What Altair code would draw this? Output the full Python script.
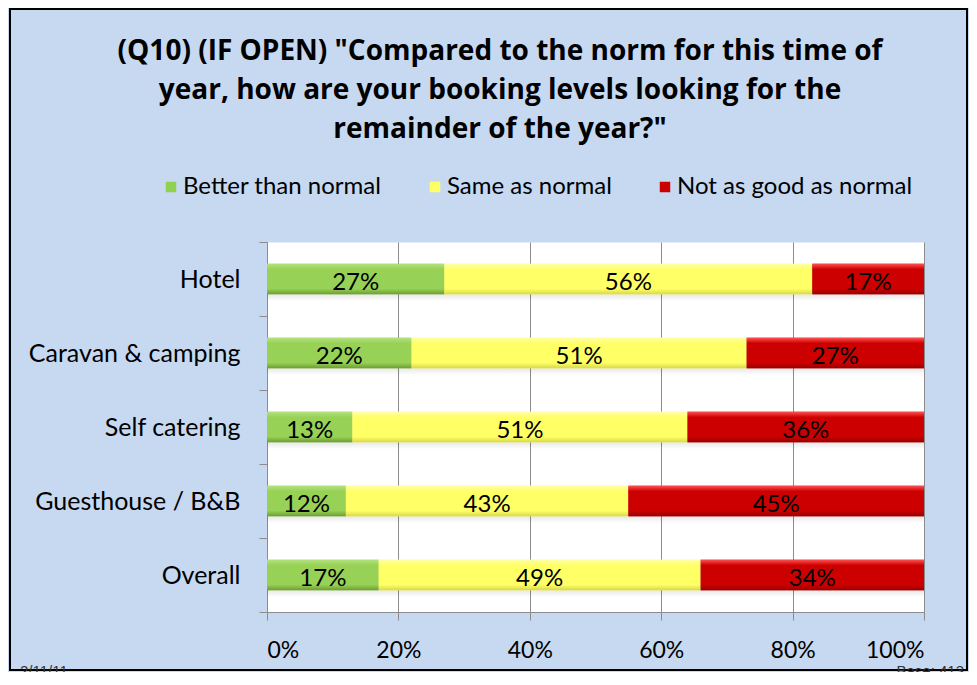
import altair as alt
import pandas as pd

categories = ["Hotel", "Caravan & camping", "Self catering", "Guesthouse / B&B", "Overall"]
series = ["Better than normal", "Same as normal", "Not as good as normal"]
better = [27, 22, 13, 12, 17]
same = [56, 51, 51, 43, 49]
notgood = [17, 27, 36, 45, 34]
x_ticks = [0, 20, 40, 60, 80, 100]
title_lines = [
    '(Q10) (IF OPEN) "Compared to the norm for this time of',
    'year, how are your booking levels looking for the',
    'remainder of the year?"',
]
footer_left = "2/11/11"
footer_right = "Base: 413"

series_colors = ["#92D050", "#FFFF66", "#CC0000"]
grad_colors = [
    ("#B4E27E", "#97D156", "#6E9E34"),
    ("#FFFFA8", "#FFFF66", "#D9D94A"),
    ("#FF5050", "#CC0000", "#990000"),
]
FONT = "Lato"

rows = []
for i, c in enumerate(categories):
    for j, (s, vals) in enumerate(zip(series, [better, same, notgood])):
        rows.append({"category": c, "series": s, "value": vals[i], "order": j,
                     "label": f"{vals[i]}%"})
df = pd.DataFrame(rows)

shadow_df = pd.DataFrame({
    "category": categories,
    "start": [0] * len(categories),
    "end": [b + s + n for b, s, n in zip(better, same, notgood)],
})
one = pd.DataFrame({"k": [0]})

y_enc = alt.Y(
    "category:N", sort=categories, title=None,
    scale=alt.Scale(paddingInner=0, paddingOuter=0),
    axis=alt.Axis(labelFontSize=25, labelFont=FONT, labelColor="black",
                  domainColor="#8C8C8C", tickColor="#8C8C8C", tickSize=8,
                  tickBand="extent", labelPadding=19, grid=False, labelLimit=400),
)
x_scale = alt.Scale(domain=[0, 100], nice=False)
x_axis = alt.Axis(values=x_ticks, labelExpr="datum.value + '%'", labelFontSize=23,
                  labelFont=FONT, labelColor="black", grid=True, gridColor="#8C8C8C",
                  domainColor="#8C8C8C", tickColor="#8C8C8C", tickSize=8,
                  labelPadding=19)

base = alt.Chart(df).transform_stack(
    stack="value", groupby=["category"], sort=[alt.SortField("order")], as_=["x0", "x1"]
).transform_calculate(mid="(datum.x0 + datum.x1) / 2")

BAR_H = {"band": 0.41}

frame = alt.Chart(one).mark_rect(fillOpacity=0, stroke="black", strokeWidth=2).encode(
    x=alt.value(-257), x2=alt.value(700), y=alt.value(-233), y2=alt.value(428)
)

shadow = alt.Chart(shadow_df).mark_bar(
    height=BAR_H, yOffset=7,
    color=alt.Gradient(gradient="linear", x1=0, x2=0, y1=0, y2=1, stops=[
        alt.GradientStop(offset=0, color="rgba(0,0,0,0.0)"),
        alt.GradientStop(offset=0.6, color="rgba(0,0,0,0.16)"),
        alt.GradientStop(offset=1, color="rgba(0,0,0,0.0)"),
    ])
).encode(x=alt.X("start:Q", scale=x_scale, axis=x_axis, title=None), x2="end:Q", y=y_enc)

bars = base.mark_bar(height=BAR_H).encode(
    x=alt.X("x0:Q", scale=x_scale, axis=x_axis, title=None),
    x2="x1:Q",
    y=y_enc,
    color=alt.Color("series:N", sort=series,
                    scale=alt.Scale(domain=series, range=series_colors),
                    legend=alt.Legend(
                        title=None, orient="none", direction="horizontal",
                        legendX=-108, legendY=-67, padding=0, symbolType="square",
                        symbolSize=110, symbolStrokeWidth=0, labelFontSize=24,
                        labelFont=FONT, labelColor="black", labelLimit=400,
                        columnPadding=41, labelOffset=0)),
    order=alt.Order("order:Q"),
)

grad_layers = []
for j, (top, mid, bot) in enumerate(grad_colors):
    g = alt.Gradient(gradient="linear", x1=0, x2=0, y1=0, y2=1, stops=[
        alt.GradientStop(offset=0, color=top),
        alt.GradientStop(offset=0.18, color=mid),
        alt.GradientStop(offset=0.82, color=mid),
        alt.GradientStop(offset=1, color=bot),
    ])
    grad_layers.append(
        base.transform_filter(f"datum.order == {j}").mark_bar(height=BAR_H, color=g).encode(
            x=alt.X("x0:Q", scale=x_scale, axis=x_axis, title=None), x2="x1:Q", y=y_enc
        )
    )

labels = base.mark_text(fontSize=24, font=FONT, color="black", dy=4).encode(
    x=alt.X("mid:Q", scale=x_scale, axis=x_axis, title=None), y=y_enc, text="label:N"
)

title = alt.Chart(one).mark_text(
    fontSize=28, font="Open Sans", fontWeight="bold", color="black", lineHeight=39,
    align="center", baseline="middle"
).encode(x=alt.value(233), y=alt.value(-190), text=alt.value(title_lines))

foot_l = alt.Chart(one).mark_text(
    fontSize=15, font="Liberation Sans", color="#333333", align="left", baseline="alphabetic"
).encode(x=alt.value(-247), y=alt.value(434), text=alt.value(footer_left))

foot_r = alt.Chart(one).mark_text(
    fontSize=15, font="Liberation Sans", color="#333333", align="right", baseline="alphabetic"
).encode(x=alt.value(697), y=alt.value(434), text=alt.value(footer_right))

chart = alt.layer(frame, shadow, bars, *grad_layers, labels, title, foot_l, foot_r).properties(
    width=657, height=370,
    padding={"left": 259, "top": 234, "right": 45, "bottom": 60},
    autosize=alt.AutoSizeParams(type="none"),
).configure(background="#C6D9F1").configure_view(fill="white", stroke="transparent")

chart.save("out.html", embed_options={"renderer": "svg", "actions": False})
